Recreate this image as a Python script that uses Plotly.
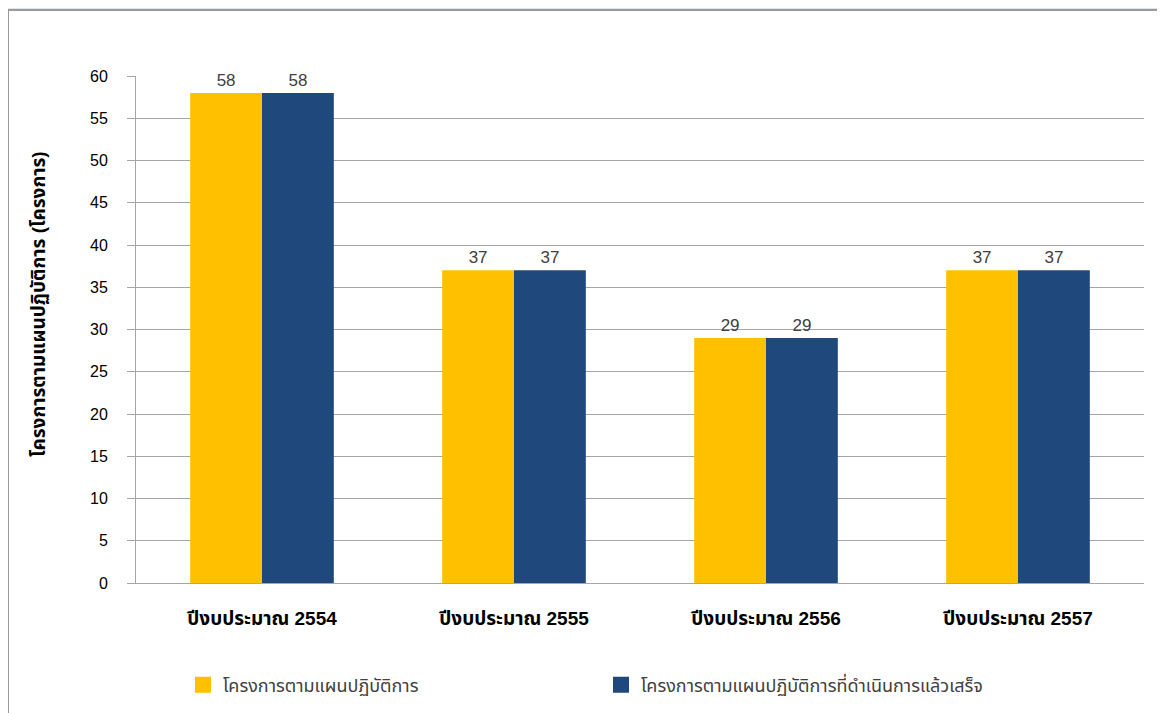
import plotly.graph_objects as go

categories = ["ปีงบประมาณ 2554", "ปีงบประมาณ 2555", "ปีงบประมาณ 2556", "ปีงบประมาณ 2557"]
planned = [58, 37, 29, 37]
completed = [58, 37, 29, 37]
series_names = ["โครงการตามแผนปฏิบัติการ", "โครงการตามแผนปฏิบัติการที่ดำเนินการแล้วเสร็จ"]
series_colors = ["#FFC000", "#1F497D"]
y_title = "โครงการตามแผนปฏิบัติการ (โครงการ)"
tick_vals = list(range(0, 61, 5))

OFF = 8  # page body margin
W, H = 1165, 713
ml, mt = 136 - OFF, 76 - OFF
pw, ph = 1008, 507
mr = W - ml - pw
mb = H - mt - ph

def px_x(x):
    return (x - OFF - ml) / pw

def px_y(y):
    return (mt + ph - (y - OFF)) / ph

font_family = "Liberation Sans, Arial, Noto Sans Thai, sans-serif"

fig = go.Figure()
for vals, name, col in zip([planned, completed], series_names, series_colors):
    fig.add_trace(go.Bar(
        x=categories, y=vals, name=name, showlegend=False,
        marker=dict(color=col, line=dict(width=0)),
        text=vals, textposition="outside",
        textfont=dict(size=17, color="#404040", family=font_family),
        cliponaxis=False,
    ))
for name, col in zip(series_names, series_colors):
    fig.add_trace(go.Scatter(
        x=[None], y=[None], name=name, mode="markers",
        marker=dict(symbol="square", size=16, color=col),
        showlegend=True,
    ))

fig.update_layout(
    width=W, height=H,
    margin=dict(l=ml, r=mr, t=mt, b=mb, pad=0, autoexpand=False),
    paper_bgcolor="#dde6f3",
    plot_bgcolor="rgba(0,0,0,0)",
    barmode="group",
    bargap=0.43,
    bargroupgap=0,
    font=dict(family=font_family, size=15, color="#000000"),
    showlegend=True,
    legend=dict(
        orientation="h",
        x=px_x(183), xanchor="left",
        y=px_y(685), yanchor="middle",
        entrywidth=373, entrywidthmode="pixels",
        font=dict(size=18, color="#404040", family=font_family),
        bgcolor="rgba(0,0,0,0)",
        itemwidth=30,
    ),
    shapes=[dict(
        type="rect", xref="paper", yref="paper", layer="below",
        x0=px_x(8), x1=px_x(1190), y0=px_y(740), y1=px_y(10),
        fillcolor="#ffffff", line=dict(color="#9a9a9a", width=2),
    )],
    annotations=[dict(
        text="<b>" + y_title + "</b>", textangle=-90,
        xref="paper", yref="paper", x=px_x(38), y=px_y(304),
        xanchor="center", yanchor="middle", showarrow=False,
        font=dict(size=19, color="#000000", family=font_family),
    )],
    xaxis=dict(
        showgrid=False, showline=True, linecolor="#a6a6a6", linewidth=1,
        ticks="", tickfont=dict(size=19, color="#000000", family=font_family),
        tickprefix="<b>", ticksuffix="</b>",
        ticklabelstandoff=18,
    ),
    yaxis=dict(
        range=[0, 60], tickvals=tick_vals,
        showgrid=True, gridcolor="#a6a6a6", gridwidth=1,
        showline=True, linecolor="#a6a6a6", linewidth=1,
        ticks="outside", ticklen=8, tickcolor="#a6a6a6",
        tickfont=dict(size=16, color="#000000", family=font_family),
        ticklabelstandoff=16,
        zeroline=False,
    ),
)

fig.write_html("out.html")
